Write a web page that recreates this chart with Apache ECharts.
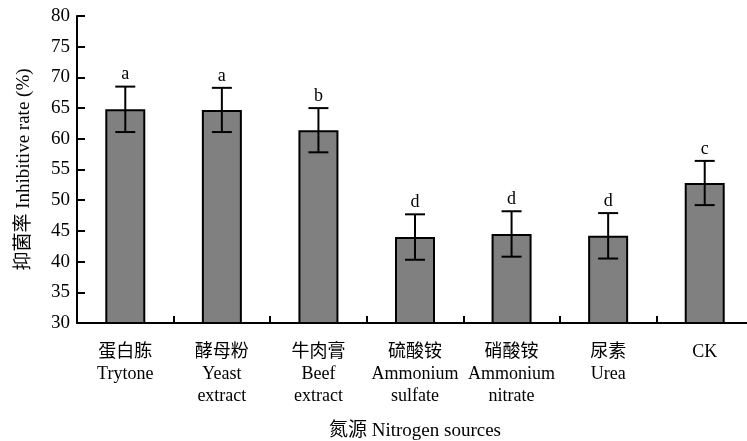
<!DOCTYPE html>
<html>
<head>
<meta charset="utf-8">
<script src="https://cdn.jsdelivr.net/npm/echarts@6/dist/echarts.min.js"></script>
<style>
  html, body { margin: 0; padding: 0; background: #fff; overflow: hidden; width: 747px; height: 441px; }
  /* the category axis runs a few pixels past the right edge of the page */
  #chart { width: 760px; height: 441px; }
</style>
</head>
<body>
<div id="chart"></div>
<script>
// Nitrogen sources and their inhibitive rates (mean ± error), with significance letters
const categoriesZh = ['蛋白胨', '酵母粉', '牛肉膏', '硫酸铵', '硝酸铵', '尿素', 'CK'];
const categoriesEn = ['Trytone', 'Yeast\nextract', 'Beef\nextract', 'Ammonium\nsulfate', 'Ammonium\nnitrate', 'Urea', ''];
const means = [64.8, 64.7, 61.4, 44.0, 44.5, 44.2, 52.8];
const errors = [3.7, 3.6, 3.6, 3.7, 3.7, 3.7, 3.6];
const letters = ['a', 'a', 'b', 'd', 'd', 'd', 'c'];

const FONT = "'Liberation Serif', 'Noto Sans CJK SC', serif";
const labels = categoriesZh.map((zh, i) => categoriesEn[i] ? zh + '\n' + categoriesEn[i] : zh);

const chart = echarts.init(document.getElementById('chart'), null, { renderer: 'canvas' });

chart.setOption({
  animation: false,
  backgroundColor: '#fff',
  grid: { left: 77, top: 16, width: 676, bottom: 118, containLabel: false, outerBoundsMode: 'none' },
  xAxis: {
    type: 'category',
    data: labels,
    name: '氮源 Nitrogen sources',
    nameLocation: 'middle',
    nameGap: 99,
    nameTextStyle: { fontFamily: FONT, fontSize: 19, color: '#000' },
    axisLine: { lineStyle: { color: '#000', width: 2 } },
    axisTick: { show: true, inside: true, length: 7, lineStyle: { color: '#000', width: 2 } },
    axisLabel: {
      interval: 0, margin: 18, fontFamily: FONT, fontSize: 18, lineHeight: 22, color: '#000'
    },
    splitLine: { show: false }
  },
  yAxis: {
    type: 'value',
    min: 30, max: 80, interval: 5,
    name: '抑菌率 Inhibitive rate (%)',
    nameLocation: 'middle',
    nameGap: 43,
    nameTextStyle: { fontFamily: FONT, fontSize: 19, color: '#000' },
    axisLine: { show: true, lineStyle: { color: '#000', width: 2 } },
    axisTick: { show: true, inside: true, length: 8, lineStyle: { color: '#000', width: 2 } },
    axisLabel: { margin: 7, fontFamily: FONT, fontSize: 19, color: '#000' },
    splitLine: { show: false }
  },
  series: [
    {
      type: 'bar',
      data: means,
      barWidth: 40,
      itemStyle: { color: '#808080', borderColor: '#000', borderWidth: 2 }
    },
    {
      type: 'custom',
      data: means.map((m, i) => [i, m, errors[i]]),
      encode: { x: 0, y: 1 },
      z: 10,
      renderItem: function (params, api) {
        const i = api.value(0);
        const m = api.value(1);
        const e = api.value(2);
        const top = api.coord([i, m + e]);
        const bot = api.coord([i, m - e]);
        const half = 10;
        const stroke = { stroke: '#000', lineWidth: 2 };
        return {
          type: 'group',
          children: [
            { type: 'line', shape: { x1: top[0], y1: top[1], x2: bot[0], y2: bot[1] }, style: stroke },
            { type: 'line', shape: { x1: top[0] - half, y1: top[1], x2: top[0] + half, y2: top[1] }, style: stroke },
            { type: 'line', shape: { x1: bot[0] - half, y1: bot[1], x2: bot[0] + half, y2: bot[1] }, style: stroke },
            {
              type: 'text',
              style: {
                text: letters[i], x: top[0], y: top[1] - 12,
                align: 'center', verticalAlign: 'middle',
                fontFamily: FONT, fontSize: 18, fill: '#000'
              }
            }
          ]
        };
      }
    }
  ]
});
</script>
</body>
</html>
